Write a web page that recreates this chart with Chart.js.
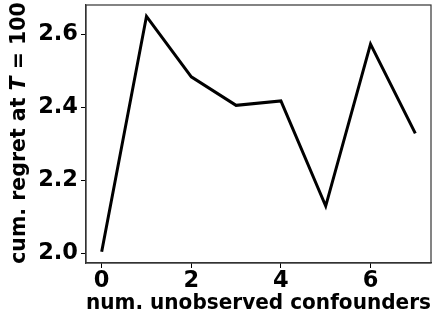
<!DOCTYPE html>
<html>
<head>
<meta charset="utf-8">
<script src="https://cdn.jsdelivr.net/npm/chart.js@4/dist/chart.umd.min.js"></script>
<style>
  html, body { margin: 0; padding: 0; background: #fff; }
  #wrap { width: 446px; height: 318px; }
</style>
</head>
<body>
<div id="wrap"><canvas id="chart" width="446" height="318"></canvas></div>
<script>
const confounders = [0, 1, 2, 3, 4, 5, 6, 7];
const regret = [2.004, 2.649, 2.483, 2.405, 2.417, 2.129, 2.573, 2.328];
const xTicks = [0, 2, 4, 6];
const yTicks = [2.0, 2.2, 2.4, 2.6];

const font = "'DejaVu Sans', sans-serif";
const frameColor = '#333';

// y title has an italic T, so draw it by hand; also the box round the plot
const extrasPlugin = {
    id: 'extras',
    afterDraw(chart) {
        const ctx = chart.ctx;
        const area = chart.chartArea;
        ctx.save();
        ctx.strokeStyle = frameColor;
        ctx.lineWidth = 1.2;
        ctx.strokeRect(area.left, area.top, area.right - area.left, area.bottom - area.top);
        const parts = [
            { text: 'cum. regret at ', style: 'bold' },
            { text: 'T', style: 'italic bold' },
            { text: ' = 100', style: 'bold' },
        ];
        let total = 0;
        parts.forEach((p) => {
            ctx.font = p.style + ' 20.5px ' + font;
            p.w = ctx.measureText(p.text).width;
            total += p.w;
        });
        ctx.translate(20, (area.top + area.bottom) / 2 - 1);
        ctx.rotate(-Math.PI / 2);
        ctx.fillStyle = '#000';
        ctx.textBaseline = 'middle';
        let x = -total / 2;
        parts.forEach((p) => {
            ctx.font = p.style + ' 20.5px ' + font;
            ctx.fillText(p.text, x, 0);
            x += p.w;
        });
        ctx.restore();
    },
};

new Chart(document.getElementById('chart'), {
    type: 'line',
    data: {
        labels: confounders,
        datasets: [{
            data: confounders.map((c, i) => ({ x: c, y: regret[i] })),
            borderColor: '#000',
            borderWidth: 3,
            pointRadius: 0,
            tension: 0,
            fill: false,
        }],
    },
    options: {
        responsive: false,
        animation: false,
        layout: { padding: { top: 5, right: 15, left: 0, bottom: 0 } },
        plugins: { legend: { display: false }, tooltip: { enabled: false } },
        scales: {
            x: {
                type: 'linear',
                min: -0.35,
                max: 7.35,
                afterBuildTicks: (s) => { s.ticks = xTicks.map((v) => ({ value: v })); },
                afterFit: (s) => { s.height = 55; s.paddingLeft = 0; s.paddingRight = 0; },
                grid: { drawOnChartArea: false, tickLength: 5, color: '#000', tickWidth: 1 },
                border: { color: frameColor, width: 1.2 },
                ticks: { color: '#000', padding: 0, maxRotation: 0, font: { family: font, weight: 'bold', size: 22.5 } },
                title: { display: true, text: 'num. unobserved confounders', color: '#000', padding: { top: 0, bottom: 2 }, font: { family: font, weight: 'bold', size: 20.9 } },
            },
            y: {
                min: 1.973,
                max: 2.68,
                afterBuildTicks: (s) => { s.ticks = yTicks.map((v) => ({ value: v })); },
                afterFit: (s) => { s.width = 86; s.paddingTop = 0; s.paddingBottom = 0; },
                grid: { drawOnChartArea: false, tickLength: 5, color: '#000', tickWidth: 1 },
                border: { color: frameColor, width: 1.2 },
                ticks: { color: '#000', padding: 3, font: { family: font, weight: 'bold', size: 22.5 }, callback: (v) => v.toFixed(1) },
            },
        },
    },
    plugins: [extrasPlugin],
});
</script>
</body>
</html>
